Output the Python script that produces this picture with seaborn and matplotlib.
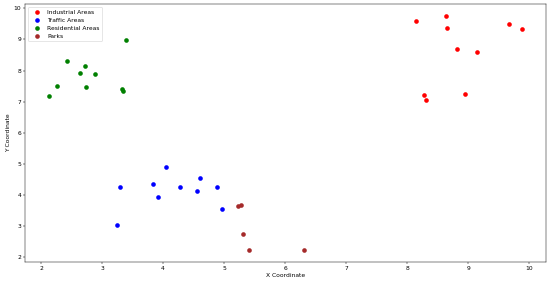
import matplotlib
matplotlib.use("Agg")
import matplotlib.pyplot as plt
import seaborn as sns
import pandas as pd

industrial_x = [8.15, 8.63, 8.65, 8.81, 9.14, 9.67, 9.89, 8.27, 8.31, 8.94]
industrial_y = [9.59, 9.76, 9.36, 8.70, 8.58, 9.49, 9.32, 7.21, 7.06, 7.26]

traffic_x = [3.24, 3.30, 3.83, 3.92, 4.05, 4.28, 4.56, 4.60, 4.89, 4.96]
traffic_y = [3.05, 4.25, 4.37, 3.94, 4.89, 4.25, 4.14, 4.56, 4.25, 3.55]

residential_x = [2.13, 2.26, 2.43, 2.64, 2.72, 2.74, 2.88, 3.33, 3.35, 3.40]
residential_y = [7.19, 7.49, 8.30, 7.92, 8.14, 7.48, 7.88, 7.42, 7.33, 8.97]

parks_x = [5.22, 5.28, 5.31, 5.40, 6.31]
parks_y = [3.66, 3.69, 2.75, 2.23, 2.23]

categories = ["Industrial Areas", "Traffic Areas", "Residential Areas", "Parks"]
colors = ["red", "blue", "green", "brown"]

frames = []
for name, xs, ys in zip(categories,
                        [industrial_x, traffic_x, residential_x, parks_x],
                        [industrial_y, traffic_y, residential_y, parks_y]):
    frames.append(pd.DataFrame({"x": xs, "y": ys, "area": name}))
df = pd.concat(frames, ignore_index=True)

DPI = 43
fig, ax = plt.subplots(figsize=(550 / DPI, 285 / DPI), dpi=DPI)
for name, col in zip(categories, colors):
    sub = df[df["area"] == name]
    sns.scatterplot(data=sub, x="x", y="y", color=col, label=name,
                    s=60, edgecolor=None, linewidth=0, ax=ax)

ax.set_xlabel("X Coordinate")
ax.set_ylabel("Y Coordinate")
ax.legend(loc="upper left")
fig.subplots_adjust(left=0.046, right=0.993, top=0.986, bottom=0.081)
fig.savefig("out.png", dpi=DPI)
